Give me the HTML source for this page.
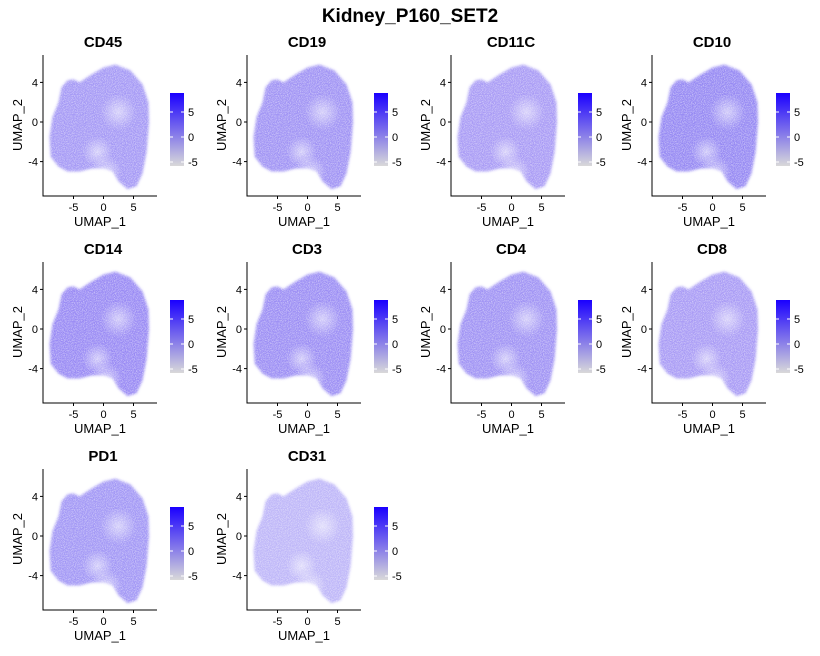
<!DOCTYPE html>
<html><head><meta charset="utf-8"><style>
body{margin:0;background:#fff;}
svg{display:block;font-family:"Liberation Sans",Arial,sans-serif;}
</style></head><body>
<svg id="c" width="820" height="656" viewBox="0 0 820 656">
<defs>
<linearGradient id="cb" x1="0" y1="1" x2="0" y2="0"><stop offset="0" stop-color="#d9d9d9"/><stop offset="1" stop-color="#1a00ff"/></linearGradient>
<radialGradient id="hole" cx="0.5" cy="0.5" r="0.5"><stop offset="0" stop-color="#fff" stop-opacity="0.55"/><stop offset="1" stop-color="#fff" stop-opacity="0"/></radialGradient>
<filter id="soft" x="-10%" y="-10%" width="120%" height="120%"><feGaussianBlur stdDeviation="1.2"/></filter>
<filter id="grain"><feTurbulence type="fractalNoise" baseFrequency="1.1" numOctaves="1" seed="3"/><feColorMatrix values="0 0 0 0 1  0 0 0 0 1  0 0 0 0 1  0 0 0 -2.2 1.35"/></filter>
</defs>
<text x="410" y="22" text-anchor="middle" font-size="19" font-weight="bold">Kidney_P160_SET2</text>
</svg>
<script>
const markers=["CD45","CD19","CD11C","CD10","CD14","CD3","CD4","CD8","PD1","CD31"];
const intensity=[0.62,0.66,0.6,0.72,0.7,0.68,0.66,0.6,0.64,0.45];
const xTicks=[-5,0,5];
const yTicks=[4,0,-4];
const cbTicks=[5,0,-5];
const outlineX=[2,4.5,6.5,7.5,7.6,7.2,6.5,5.5,4,2.5,1.5,0,-2,-4,-6,-7.5,-8.8,-9,-8.5,-7.5,-7,-6,-5,-4,-2,0];
const outlineY=[5.8,5.2,3.8,2,0,-3,-5.2,-6.5,-6.8,-6,-5,-4.7,-4.7,-5,-5,-4.5,-3.5,-1.5,0.5,2,3.5,4.2,4.3,4,4.8,5.5];
const holesX=[2.5,-1,0.5];
const holesY=[1,-3,-5];
const holesR=[2.6,2.2,2.2];
const colOff=[0,204,408,609],rowOff=[0,207,414];
const svg=document.getElementById('c');const NS='http://www.w3.org/2000/svg';
function mk(t,a,p){const e=document.createElementNS(NS,t);for(const k in a)e.setAttribute(k,a[k]);(p||svg).appendChild(e);return e;}
markers.forEach((m,i)=>{
 const ox=colOff[i%4],oy=rowOff[Math.floor(i/4)];
 const g=mk('g',{transform:`translate(${ox},${oy})`});
 
 
 const X=v=>103.5+6*v, Y=v=>122-9.9*v;
 const t=mk('text',{x:103,y:47,'text-anchor':'middle','font-size':15,'font-weight':'bold'},g);t.textContent=m;
 
 let d=outlineX.map((x,j)=>(j?'L':'M')+X(x).toFixed(1)+','+Y(outlineY[j]).toFixed(1)).join('')+'Z';
 const b=mk('path',{d:d,fill:'#6450ee','fill-opacity':intensity[i]*0.95,filter:'url(#soft)'},g);
 
 holesX.forEach((hx,j)=>{mk('circle',{cx:X(hx),cy:Y(holesY[j]),r:holesR[j]*7,fill:'url(#hole)'},g);});
 mk('path',{d:d,filter:'url(#grain)',opacity:0.6},g);
 const ax=mk('path',{d:'M43,55V196H157',fill:'none',stroke:'#000','stroke-width':1},g);
 
 xTicks.forEach(v=>{mk('line',{x1:X(v),x2:X(v),y1:196,y2:199,stroke:'#000'},g);const tt=mk('text',{x:X(v),y:211,'text-anchor':'middle','font-size':11},g);tt.textContent=v;});
 yTicks.forEach(v=>{mk('line',{x1:40,x2:43,y1:Y(v),y2:Y(v),stroke:'#000'},g);const tt=mk('text',{x:38,y:Y(v)+4,'text-anchor':'end','font-size':11},g);tt.textContent=v;});
 const xl=mk('text',{x:100,y:226,'text-anchor':'middle','font-size':13},g);xl.textContent='UMAP_1';
 
 const yl=mk('text',{x:0,y:0,'text-anchor':'middle','font-size':13,transform:'translate(22,125) rotate(-90)'},g);yl.textContent='UMAP_2';
 
 const cbx=i%4==3?167:170;
 const cb=mk('rect',{x:cbx,y:93,width:14,height:73,fill:'url(#cb)'},g);
 
 const CY=v=>137-5*v;
 cbTicks.forEach(v=>{mk('line',{x1:cbx,x2:cbx+3,y1:CY(v),y2:CY(v),stroke:'#fff'},g);mk('line',{x1:cbx+11,x2:cbx+14,y1:CY(v),y2:CY(v),stroke:'#fff'},g);const tt=mk('text',{x:cbx+18,y:CY(v)+4,'font-size':11},g);tt.textContent=v;});
});
</script>
</body></html>
